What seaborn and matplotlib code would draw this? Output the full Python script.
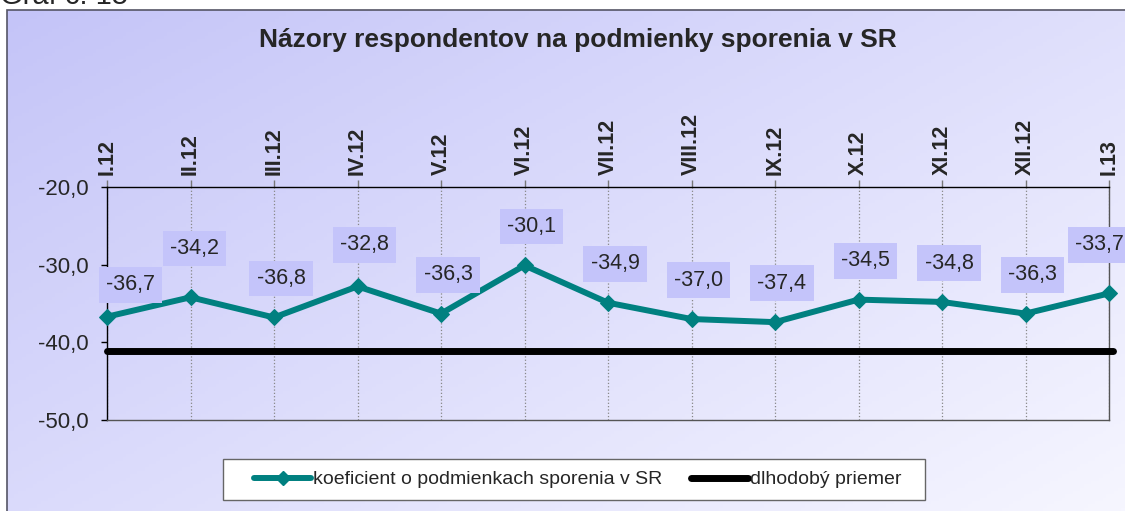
import numpy as np
import pandas as pd
import matplotlib
matplotlib.use('Agg')
import matplotlib.pyplot as plt
import seaborn as sns
from matplotlib.ticker import FuncFormatter
from matplotlib.lines import Line2D
from matplotlib.patches import Rectangle

# data
months = ['I.12', 'II.12', 'III.12', 'IV.12', 'V.12', 'VI.12', 'VII.12',
          'VIII.12', 'IX.12', 'X.12', 'XI.12', 'XII.12', 'I.13']
koeficient = [-36.7, -34.2, -36.8, -32.8, -36.3, -30.1, -34.9,
              -37.0, -37.4, -34.5, -34.8, -36.3, -33.7]
dlhodoby_priemer = -41.1
y_ticks = [-50, -40, -30, -20]

title = 'Názory respondentov na podmienky sporenia v SR'
label_series = 'koeficient o podmienkach sporenia v SR'
label_avg = 'dlhodobý priemer'

TEAL = '#008080'
BOX = '#c4c4fa'


def comma(v, pos=None):
    return f'{v:.1f}'.replace('.', ',')


def main():
    sns.set_theme(style='white')
    plt.rcParams['font.family'] = ['Liberation Sans', 'DejaVu Sans']

    W, H = 1125, 511
    fig = plt.figure(figsize=(W / 100, H / 100), dpi=100)

    # chart area with a diagonal gradient
    bg = fig.add_axes([7 / W, 0, 1 - 7 / W, 1 - 10 / H], zorder=-5)
    gx, gy = np.meshgrid(np.linspace(0, 1, 300), np.linspace(0, 1, 150))
    t = np.clip(0.55 * gx + 0.45 * gy, 0, 1)
    c0 = np.array([196, 196, 248]) / 255
    c1 = np.array([246, 246, 255]) / 255
    img = c0[None, None, :] * (1 - t[..., None]) + c1[None, None, :] * t[..., None]
    bg.imshow(img, aspect='auto', extent=[0, 1, 0, 1], origin='upper')
    bg.set_xlim(0, 1)
    bg.set_ylim(0, 1)
    bg.axis('off')
    bg.add_patch(Rectangle((0, -0.5), 1.5, 1.5, fill=False, ec='#555566', lw=1.2,
                           transform=bg.transAxes, clip_on=False))

    fig.text(0.0, 1 - 4 / H, 'Graf č. 15', fontsize=21, ha='left', va='baseline')
    fig.text(578 / W, 1 - 47 / H, title, fontsize=19, fontweight='bold',
             ha='center', va='baseline')

    ax = fig.add_axes([107 / W, 1 - 420 / H, (1109 - 107) / W, (420 - 187) / H])
    ax.patch.set_alpha(0)

    df = pd.DataFrame({'pos': range(len(months)), 'value': koeficient})
    sns.lineplot(data=df, x='pos', y='value', ax=ax, color=TEAL, lw=4.3,
                 marker='D', markersize=8, markeredgecolor=TEAL, clip_on=False,
                 zorder=4)
    ax.axhline(dlhodoby_priemer, color='black', lw=5, zorder=3,
               xmax=1.004, clip_on=False)

    # label nudges in points (excel places a few of them differently)
    nudge = {0: (17, 23), 1: (3, 35), 3: (5, 30), len(koeficient) - 1: (-7, 35)}
    for i, v in enumerate(koeficient):
        dx, dy = nudge.get(i, (5, 28))
        ax.annotate(comma(v), (i, v), xytext=(dx, dy), textcoords='offset points',
                    ha='center', va='center', fontsize=15.5, annotation_clip=False,
                    bbox=dict(boxstyle='square,pad=0.34', fc=BOX, ec='none'),
                    zorder=5)

    ax.set_xlim(0, len(months) - 1)
    ax.set_ylim(-50, -20)
    ax.set_yticks(y_ticks)
    ax.yaxis.set_major_formatter(FuncFormatter(comma))
    ax.set_xticks(range(len(months)))
    ax.set_xticklabels(months, rotation=90, fontweight='bold', fontsize=15.5)
    ax.xaxis.tick_top()
    ax.set_xlabel('')
    ax.set_ylabel('')
    ax.tick_params(axis='y', direction='out', length=4.3, width=1, color='black',
                   labelsize=16, pad=8.6, left=True)
    ax.tick_params(axis='x', direction='out', length=5, width=1, color='#777777',
                   pad=3.6, top=True, bottom=False)
    ax.grid(axis='x', linestyle=':', color='#888888', lw=0.9)
    ax.grid(axis='y', visible=False)
    for side in ['left', 'top']:
        ax.spines[side].set_color('black')
        ax.spines[side].set_linewidth(1.0)
    for side in ['right', 'bottom']:
        ax.spines[side].set_color('#555555')
        ax.spines[side].set_linewidth(1.0)

    # legend: frame drawn separately so its width matches the original box
    fig.add_artist(Rectangle((223 / W, 1 - 500 / H), (925 - 223) / W, 41 / H,
                             transform=fig.transFigure, fc='white',
                             ec='#666666', lw=1.0, zorder=1))
    handles = [
        Line2D([], [], color=TEAL, lw=4.3, marker='D', markersize=7),
        Line2D([], [], color='black', lw=5),
    ]
    leg = fig.legend(handles, [label_series, label_avg], loc='center',
                     bbox_to_anchor=(578 / W, 1 - 479.5 / H), ncol=2, fontsize=14,
                     frameon=False, handlelength=2.93, handletextpad=0.1,
                     columnspacing=1.5, borderpad=0)
    leg.set_zorder(2)

    fig.savefig('out.png', dpi=100)
    plt.close(fig)


if __name__ == '__main__':
    main()
